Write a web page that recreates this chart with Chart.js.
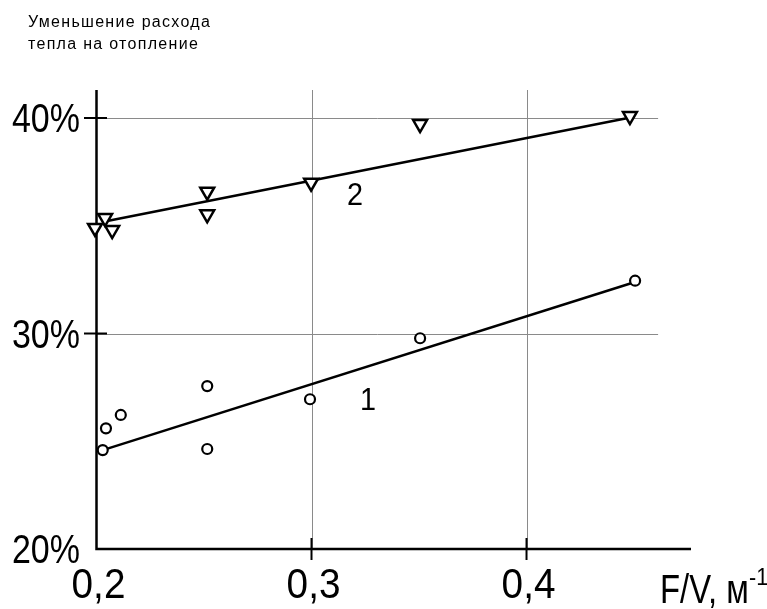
<!DOCTYPE html>
<html>
<head>
<meta charset="utf-8">
<script src="https://cdn.jsdelivr.net/npm/chart.js@4.4.0/dist/chart.umd.min.js"></script>
<style>
  html, body { margin: 0; padding: 0; background: #fff; }
  #wrap { width: 767px; height: 609px; position: relative; }
</style>
</head>
<body>
<div id="wrap"><canvas id="graphique" width="767" height="609"></canvas></div>
<script>
// Données
const serie1X = [0.2029, 0.2044, 0.2113, 0.2515, 0.2515, 0.2993, 0.3505, 0.4505];
const serie1Y = [24.59, 25.60, 26.22, 27.56, 24.64, 26.95, 29.78, 32.45];
const serie2X = [0.1993, 0.2040, 0.2073, 0.2515, 0.2515, 0.2998, 0.3505, 0.4481];
const serie2Y = [34.90, 35.36, 34.80, 36.58, 35.53, 37.00, 39.72, 40.09];
// droites de tendance (début, fin)
const droite1X = [0.2029, 0.4505];
const droite1Y = [24.59, 32.39];
const droite2X = [0.2032, 0.4466];
const droite2Y = [35.19, 39.99];
// graduations
const ticksX = [0.2, 0.3, 0.4];
const labelsX = ['0,2', '0,3', '0,4'];
const ticksY = [20, 30, 40];
const labelsY = ['20%', '30%', '40%'];
const titre = ['Уменьшение расхода', 'тепла на отопление'];
const titreAxeX = 'F/V, м';

const FONT = '"Liberation Sans", Arial, sans-serif';
const FIN_GRILLE_X = 0.4612;

function points(xs, ys) {
  return xs.map((x, i) => ({ x: x, y: ys[i] }));
}

function texte(ctx, t, px, py, taille, sx, align) {
  ctx.save();
  ctx.font = taille + 'px ' + FONT;
  ctx.textAlign = align;
  ctx.textBaseline = 'alphabetic';
  ctx.fillStyle = '#000';
  ctx.translate(px, py);
  ctx.scale(sx, 1);
  ctx.fillText(t, 0, 0);
  ctx.restore();
}

const axesPlugin = {
  id: 'axesPlugin',
  beforeDatasetsDraw(chart) {
    const { ctx, chartArea: a, scales: { x, y } } = chart;
    ctx.save();
    // grille grise
    ctx.strokeStyle = '#8a8a8a';
    ctx.lineWidth = 1;
    ticksY.slice(1).forEach(v => {
      const py = Math.round(y.getPixelForValue(v)) + 0.5;
      ctx.beginPath();
      ctx.moveTo(a.left, py);
      ctx.lineTo(x.getPixelForValue(FIN_GRILLE_X), py);
      ctx.stroke();
    });
    ticksX.slice(1).forEach(v => {
      const px = Math.round(x.getPixelForValue(v)) + 0.5;
      ctx.beginPath();
      ctx.moveTo(px, a.bottom);
      ctx.lineTo(px, a.top);
      ctx.stroke();
    });
    // axes
    ctx.strokeStyle = '#000';
    ctx.lineWidth = 2.5;
    ctx.beginPath();
    ctx.moveTo(a.left, a.top);
    ctx.lineTo(a.left, a.bottom);
    ctx.lineTo(a.right, a.bottom);
    ctx.stroke();
    // petites croix des graduations
    ctx.lineWidth = 2;
    ticksY.slice(1).forEach(v => {
      const py = y.getPixelForValue(v);
      ctx.beginPath();
      ctx.moveTo(a.left - 12.5, py);
      ctx.lineTo(a.left + 10.5, py);
      ctx.stroke();
    });
    ticksX.slice(1).forEach(v => {
      const px = x.getPixelForValue(v);
      ctx.beginPath();
      ctx.moveTo(px, a.bottom - 11);
      ctx.lineTo(px, a.bottom + 11);
      ctx.stroke();
    });
    ctx.restore();
  },
  afterDraw(chart) {
    const { ctx, scales: { x, y } } = chart;
    // étiquettes des axes
    ticksY.forEach((v, i) => {
      texte(ctx, labelsY[i], 80, y.getPixelForValue(v) + 14, 40, 0.85, 'right');
    });
    ticksX.forEach((v, i) => {
      texte(ctx, labelsX[i], x.getPixelForValue(v) + 2, 598, 43, 0.9, 'center');
    });
    texte(ctx, titreAxeX, 660, 603, 40, 0.82, 'left');
    texte(ctx, '-1', 749, 585, 24, 0.9, 'left');
    // numéros des courbes
    texte(ctx, '2', x.getPixelForValue(0.3165), y.getPixelForValue(35.96), 32, 0.9, 'left');
    texte(ctx, '1', x.getPixelForValue(0.3225), y.getPixelForValue(26.45), 32, 0.9, 'left');
    // titre en haut
    ctx.save();
    ctx.font = '16px ' + FONT;
    ctx.fillStyle = '#000';
    if ('letterSpacing' in ctx) ctx.letterSpacing = '1.3px';
    ctx.fillText(titre[0], 28, 27);
    ctx.fillText(titre[1], 28, 49);
    ctx.restore();
  }
};

new Chart(document.getElementById('graphique'), {
  type: 'scatter',
  data: {
    datasets: [
      {
        data: points(serie1X, serie1Y),
        pointStyle: 'circle',
        pointRadius: 5,
        pointBorderWidth: 2.2,
        pointBorderColor: '#000',
        pointBackgroundColor: '#fff',
        showLine: false
      },
      {
        data: points(serie2X, serie2Y),
        pointStyle: 'triangle',
        rotation: 180,
        pointRadius: 8,
        pointBorderWidth: 2.5,
        pointBorderColor: '#000',
        pointBackgroundColor: '#fff',
        showLine: false
      },
      {
        data: points(droite1X, droite1Y),
        showLine: true,
        borderColor: '#000',
        borderWidth: 2.5,
        pointRadius: 0
      },
      {
        data: points(droite2X, droite2Y),
        showLine: true,
        borderColor: '#000',
        borderWidth: 2.5,
        pointRadius: 0
      }
    ]
  },
  options: {
    responsive: false,
    animation: false,
    devicePixelRatio: 1,
    clip: false,
    layout: { padding: { left: 96.5, right: 76, top: 90, bottom: 60 } },
    plugins: { legend: { display: false }, tooltip: { enabled: false } },
    scales: {
      x: { type: 'linear', min: 0.2, max: 0.4765, display: false },
      y: { type: 'linear', min: 20, max: 41.3, display: false }
    }
  },
  plugins: [axesPlugin]
});
</script>
</body>
</html>
